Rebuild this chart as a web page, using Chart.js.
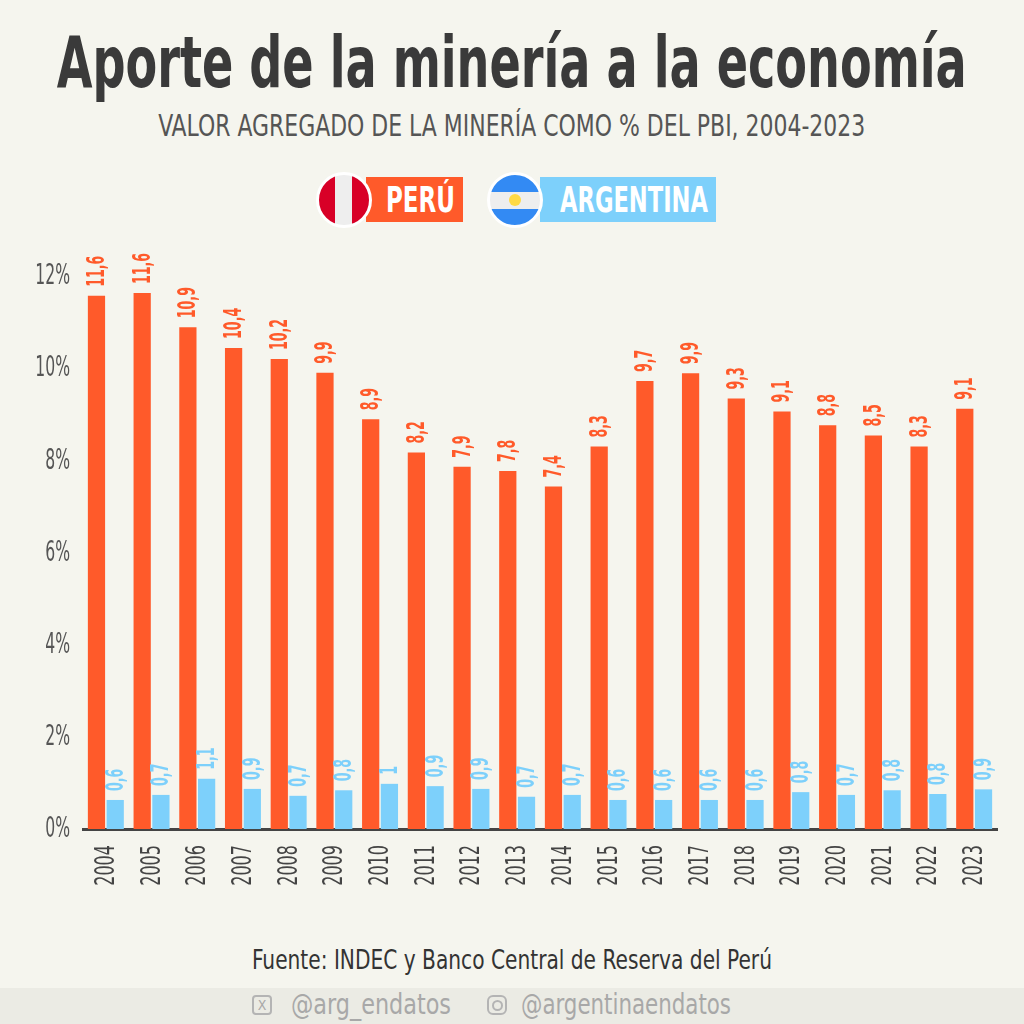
<!DOCTYPE html>
<html>
<head>
<meta charset="utf-8">
<script src="https://cdn.jsdelivr.net/npm/chart.js@4"></script>
<style>
    html, body{
        margin: 0;
        padding: 0;
        width: 1024px;
        height: 1024px;
        background: #f5f5ee;
        overflow: hidden;
        font-family: "DejaVu Sans Condensed", "DejaVu Sans", sans-serif;
    }
    .fit{ position: absolute; white-space: nowrap; }
    .center{ left: -500px; width: 2024px; text-align: center; }
    .center span{ display: inline-block; transform-origin: center; }
    .title{ top: 20px; color: #3a3a3a; font-size: 72px; font-weight: bold; }
    .subtitle{ top: 108px; color: #555; font-size: 30px; font-weight: 300; }
    .legend-item{ position: absolute; top: 172px; height: 56px; }
    .flag{
        position: absolute; top: 0; width: 50px; height: 50px; border-radius: 50%;
        border: 3px solid #fff; z-index: 2;
    }
    .flag-pe{ background: linear-gradient(90deg, #d80027 0 33%, #eeeeee 33% 67%, #d80027 67%); }
    .flag-ar{ background: linear-gradient(180deg, #338af3 0 33%, #eeeeee 33% 67%, #338af3 67%); }
    .flag-ar::after{
        content: ""; position: absolute; left: 19px; top: 19px; width: 12px; height: 12px;
        border-radius: 50%; background: #ffda44;
    }
    .tag{ position: absolute; top: 5px; height: 45px; }
    .tag span{
        position: absolute; top: 0; line-height: 46px; color: #fff; font-weight: bold;
        font-size: 35px; white-space: nowrap; transform-origin: left center;
    }
    .chart-box{ position: absolute; left: 0; top: 240px; width: 1024px; height: 690px; }
    .source{ top: 944px; color: #333; font-size: 27px; }
    .footer{
        position: absolute; left: 0; top: 988px; width: 1024px; height: 36px;
        background: #ebebe4; color: #a8a8a8; font-size: 28px; line-height: 34px;
    }
    .footer span{ position: absolute; top: 0; white-space: nowrap; transform-origin: left center; }
    .icon{
        position: absolute; top: 7px; width: 16px; height: 16px;
        border: 2px solid #b4b4b4; border-radius: 4px;
        font-size: 14px; line-height: 16px; text-align: center; color: #a8a8a8;
    }
    .icon.ig{ border-radius: 6px; }
    .icon.ig::after{
        content: ""; position: absolute; left: 3px; top: 3px; width: 7px; height: 7px;
        border: 2px solid #b4b4b4; border-radius: 50%;
    }
</style>
</head>
<body>
<div class="fit center title"><span data-w="910">Aporte de la minería a la economía</span></div>
<div class="fit center subtitle"><span data-w="707">VALOR AGREGADO DE LA MINERÍA COMO % DEL PBI, 2004-2023</span></div>

<div class="legend-item" style="left:316px;">
    <div class="flag flag-pe" style="left:0;"></div>
    <div class="tag" style="left:50px; width:97px; background:#ff5a2a;"><span data-w="69" style="left:20px;">PERÚ</span></div>
</div>
<div class="legend-item" style="left:487px;">
    <div class="flag flag-ar" style="left:0;"></div>
    <div class="tag" style="left:53px; width:176px; background:#7dd0fb;"><span data-w="148" style="left:20px;">ARGENTINA</span></div>
</div>

<div class="chart-box"><canvas id="myChart"></canvas></div>

<div class="fit center source"><span data-w="520">Fuente: INDEC y Banco Central de Reserva del Perú</span></div>
<div class="footer">
    <div class="icon" style="left:252px;">X</div>
    <span data-w="160" style="left:291px;">@arg_endatos</span>
    <div class="icon ig" style="left:487px;"></div>
    <span data-w="210" style="left:521px;">@argentinaendatos</span>
</div>

<script>
    // datos
    const years = ['2004', '2005', '2006', '2007', '2008', '2009', '2010', '2011', '2012', '2013',
                   '2014', '2015', '2016', '2017', '2018', '2019', '2020', '2021', '2022', '2023'];
    const peru = [11.57, 11.63, 10.89, 10.44, 10.2, 9.9, 8.89, 8.17, 7.86, 7.77,
                  7.43, 8.3, 9.72, 9.89, 9.34, 9.06, 8.76, 8.54, 8.3, 9.12];
    const argentina = [0.63, 0.74, 1.09, 0.87, 0.72, 0.84, 0.98, 0.93, 0.87, 0.7,
                       0.74, 0.63, 0.63, 0.63, 0.63, 0.8, 0.74, 0.84, 0.76, 0.86];
    const yTicks = [0, 2, 4, 6, 8, 10, 12];

    const colorPeru = '#ff5a2a';
    const colorArg = '#7dd0fb';
    const fontFam = '"DejaVu Sans Condensed", "DejaVu Sans", sans-serif';

    // ajustar el ancho de los textos html (fuente condensada)
    document.querySelectorAll('[data-w]').forEach(el => {
        const w = el.getBoundingClientRect().width;
        el.style.transform = 'scaleX(' + (parseFloat(el.dataset.w) / w) + ')';
    });

    // formato 11.6 -> "11,6", 1.0 -> "1"
    function fmt(v) {
        return (Math.round(v * 10) / 10).toString().replace('.', ',');
    }

    // texto comprimido a lo ancho (la fuente original es condensada)
    function drawText(ctx, text, x, y, opts) {
        ctx.save();
        ctx.translate(x, y);
        if (opts.rotate) ctx.rotate(opts.rotate);
        ctx.scale(opts.sx, 1);
        ctx.font = opts.font;
        ctx.fillStyle = opts.color;
        ctx.textAlign = opts.align;
        ctx.textBaseline = 'middle';
        ctx.fillText(text, 0, 0);
        ctx.restore();
    }

    // etiquetas de ejes y de valores
    const textLayer = {
        id: 'textLayer',
        afterDraw(chart) {
            const ctx = chart.ctx;
            const xs = chart.scales.x, ys = chart.scales.y;

            yTicks.forEach(v => {
                drawText(ctx, v + '%', 70, ys.getPixelForValue(v) + 1,
                    { sx: 0.62, font: '300 28px ' + fontFam, color: '#555', align: 'right' });
            });

            years.forEach((yr, i) => {
                drawText(ctx, yr, xs.getPixelForTick(i) + 1, xs.top + 16,
                    { sx: 0.66, rotate: -Math.PI / 2, font: '300 27px ' + fontFam, color: '#444', align: 'right' });
            });

            chart.data.datasets.forEach((ds, i) => {
                chart.getDatasetMeta(i).data.forEach((bar, j) => {
                    drawText(ctx, fmt(ds.data[j]), bar.x + 1, bar.y - 9,
                        { sx: 0.56, rotate: -Math.PI / 2, font: 'bold 25px ' + fontFam, color: ds.backgroundColor, align: 'left' });
                });
            });
        }
    };

    new Chart(document.getElementById('myChart'), {
        type: 'bar',
        data: {
            labels: years,
            datasets: [
                { label: 'Perú', data: peru, backgroundColor: colorPeru },
                { label: 'Argentina', data: argentina, backgroundColor: colorArg }
            ]
        },
        options: {
            responsive: true,
            maintainAspectRatio: false,
            animation: false,
            devicePixelRatio: 1,
            layout: { padding: { top: 36, right: 27, bottom: 0, left: 0 } },
            datasets: { bar: { categoryPercentage: 0.82, barPercentage: 0.92 } },
            plugins: { legend: { display: false }, tooltip: { enabled: false } },
            scales: {
                x: {
                    grid: { display: false, drawTicks: false },
                    border: { display: true, color: '#444', width: 3 },
                    ticks: { display: false },
                    afterFit: s => { s.height = 101; }
                },
                y: {
                    min: 0, max: 12,
                    grid: { display: false, drawTicks: false },
                    border: { display: false },
                    afterBuildTicks: s => { s.ticks = yTicks.map(v => ({ value: v })); },
                    ticks: { display: false },
                    afterFit: s => { s.width = 83; }
                }
            }
        },
        plugins: [textLayer]
    });
</script>
</body>
</html>
